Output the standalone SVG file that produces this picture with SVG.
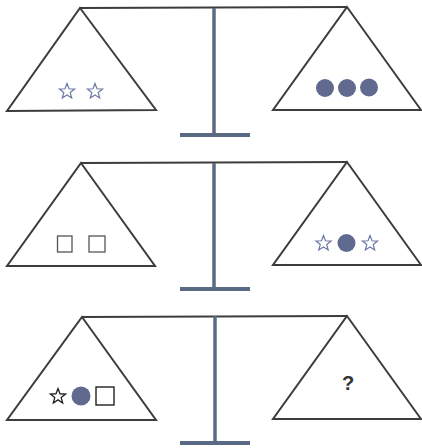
<svg xmlns="http://www.w3.org/2000/svg" width="422" height="448" viewBox="0 0 422 448">
<style>
.pan{fill:none;stroke:#3c3c3c;stroke-width:2;stroke-linejoin:miter}
.beam{fill:none;stroke:#3c3c3c;stroke-width:2}
.post{stroke:#5b6a84;stroke-width:3.5}
.foot{stroke:#5b6a84;stroke-width:4}
.ball{fill:#5f6a8e}
.star{fill:none;stroke:#6b79a6;stroke-width:1.2;stroke-linejoin:miter}
.starb{fill:none;stroke:#222;stroke-width:1.3;stroke-linejoin:miter}
.box{fill:#fff;stroke:#555;stroke-width:1.3}
.boxb{fill:#fff;stroke:#222;stroke-width:1.4}
.q{font-family:"Liberation Sans",Arial,sans-serif;font-weight:bold;font-size:20px;fill:#333;text-anchor:middle}
</style>
<defs>
<path id="st" d="M0,-8 L2,-2.75 L7.61,-2.47 L3.23,1.05 L4.7,6.47 L0,3.4 L-4.7,6.47 L-3.23,1.05 L-7.61,-2.47 L-2,-2.75 Z"/>
</defs>
<rect width="422" height="448" fill="#fff"/>
<g id="connectors">
<line class="beam" x1="80" y1="8" x2="347" y2="7"/>
<line class="post" x1="214" y1="8" x2="214" y2="135"/>
<line class="foot" x1="180" y1="135" x2="250" y2="135"/>
<line class="beam" x1="81" y1="163" x2="347" y2="162"/>
<line class="post" x1="214" y1="163" x2="214" y2="289"/>
<line class="foot" x1="180" y1="289" x2="250" y2="289"/>
<line class="beam" x1="82" y1="317" x2="347" y2="316"/>
<line class="post" x1="215" y1="316" x2="215" y2="443"/>
<line class="foot" x1="180" y1="443" x2="250" y2="443"/>
</g>
<g id="pan1-left">
<polygon class="pan" points="80,8 156,110 7,111"/>
<use href="#st" class="star" x="67" y="91.5"/>
<use href="#st" class="star" x="95" y="91.5"/>
</g>
<g id="pan1-right">
<polygon class="pan" points="347,7 421,110 273,110"/>
<circle class="ball" cx="325" cy="88" r="9"/>
<circle class="ball" cx="347" cy="88" r="9"/>
<circle class="ball" cx="369" cy="87.5" r="9"/>
</g>
<g id="pan2-left">
<polygon class="pan" points="81,163 155,266 7,266"/>
<rect class="box" x="57.5" y="236" width="14.5" height="16"/>
<rect class="box" x="89" y="236" width="16" height="16"/>
</g>
<g id="pan2-right">
<polygon class="pan" points="347,162 421,265 273,265"/>
<use href="#st" class="star" x="323.5" y="243.5"/>
<circle class="ball" cx="346.5" cy="243" r="9"/>
<use href="#st" class="star" x="370" y="243.5"/>
</g>
<g id="pan3-left">
<polygon class="pan" points="82,317 156,420 7,420"/>
<use href="#st" class="starb" x="58" y="396.5"/>
<circle class="ball" cx="81" cy="396" r="9.5"/>
<rect class="boxb" x="96" y="387" width="18" height="18"/>
</g>
<g id="pan3-right">
<polygon class="pan" points="347,316 421,419 273,419"/>
<text class="q" x="348" y="390">?</text>
</g>
</svg>
